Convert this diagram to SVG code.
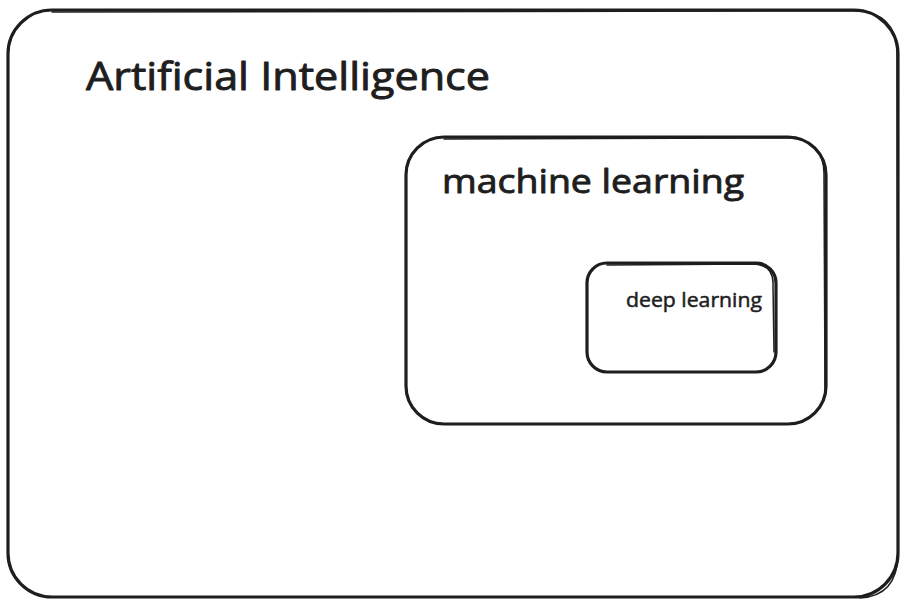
<svg xmlns="http://www.w3.org/2000/svg" width="914" height="614" viewBox="0 0 914 614">
<style>
.box{fill:none;stroke:#1e1e1e;stroke-width:3.2;stroke-linecap:round;stroke-linejoin:round}
.sk{fill:none;stroke:#1e1e1e;stroke-width:1.5;stroke-linecap:round}
.t{font-family:"Open Sans","Liberation Sans",sans-serif;fill:#1e1e1e;stroke:#1e1e1e;stroke-linejoin:round}
</style>
<rect width="914" height="614" fill="#ffffff"/>
<g id="ai">
<rect class="box" x="8" y="10" width="890" height="587" rx="44" ry="44"/>
<path class="sk" d="M52 12 L855 11 Q896 12 897 52 L898 555 Q897 596 860 598"/>
<text class="t" x="86" y="90" font-size="38" stroke-width="0.9" textLength="404" lengthAdjust="spacingAndGlyphs">Artificial Intelligence</text>
</g>
<g id="ml">
<rect class="box" x="406" y="137" width="420" height="287" rx="38" ry="38"/>
<path class="sk" d="M444 139 L790 138 Q825 140 824 176 L825 388"/>
<text class="t" x="442" y="193" font-size="33" stroke-width="0.9" textLength="302" lengthAdjust="spacingAndGlyphs">machine learning</text>
</g>
<g id="dl">
<rect class="box" x="587" y="263" width="189" height="109" rx="20" ry="20"/>
<path class="sk" d="M607 265 L755 264 Q774 266 773 285 L774 352"/>
<text class="t" x="626" y="307" font-size="20" stroke-width="0.5" textLength="136" lengthAdjust="spacingAndGlyphs">deep learning</text>
</g>
<g id="connectors"></g>
</svg>
